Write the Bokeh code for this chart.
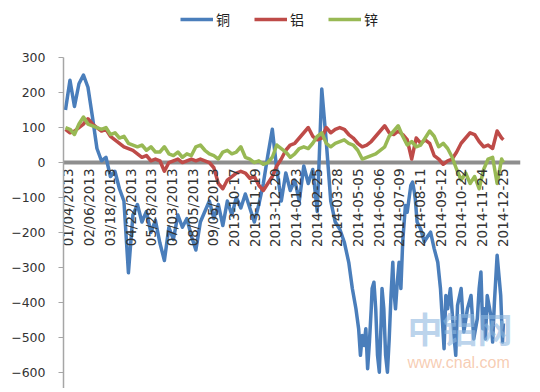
from math import pi
from bokeh.plotting import figure
from bokeh.models import (Range1d, FixedTicker, Span, Legend, LegendItem, Label,
                          ColumnDataSource)
from bokeh.core.properties import value
from bokeh.embed import file_html
from bokeh.resources import INLINE

# ---------------- data ----------------
# trading-day index of each sampled point (weekly samples) for 铝 and 锌
day_index = list(range(0, 486, 5)) + [487]

# 铜: weekly samples through Feb 2014, denser samples afterwards
copper_days = list(range(0, 291, 5)) + [
    295, 300, 305, 310, 315, 319, 323, 326, 328, 330, 332, 334, 336, 338, 340,
    341, 343, 345, 347, 349, 351, 352, 354, 356, 358, 360, 362, 364, 365, 367,
    369, 371, 373, 375, 378, 380, 384, 386, 388, 389, 391, 395, 399, 403, 406,
    410, 414, 417, 421, 423, 425, 428, 432, 434, 436, 440, 443, 447, 451, 454,
    458, 460, 462, 464, 466, 467, 469, 473, 475, 477, 480, 484, 486, 487]

copper = [150, 235, 160, 225, 250, 215, 130, 40, 5, 15,
          -40, -25, -75, -110, -315, -150, -120, -170, -140, -200,
          -165, -230, -280, -185, -220, -150, -185, -160, -210, -250,
          -170, -140, -110, -160, -120, -180, -110, -150, -100, -130,
          -90, -130, -170, -120, -60, 20, 95, -20, -110, -30,
          -80, -50, -110, -10, -60, -20, -140, 210, 60,
          -110, -170, -190, -227, -285, -360, -418, -475, -551, -494,
          -523, -475, -589, -513, -418, -360, -342, -418, -551, -599,
          -456, -360, -418, -551, -599, -504, -380, -285, -360, -418,
          -342, -285, -360, -227, -123, -142, -66, -56, -85, -104,
          -170, -190, -227, -210, -199, -246, -285, -360, -532, -380,
          -418, -360, -494, -551, -408, -360, -484, -418, -380, -504,
          -446, -360, -313, -475, -418, -504, -380, -437, -513, -399,
          -265, -380, -513, -460]

aluminium = [95, 85, 90, 100, 110, 125, 110, 100, 90, 95,
             75, 65, 55, 45, 40, 35, 25, 15, 20, 5,
             10, 5, -25, 0, 5, 10, 0, 5, 10, 5,
             10, 5, 0, -15, -60, -75, -50, -40, -30, -25,
             -30, -45, -40, -65, -80, -60, -40, -10, 10, 35,
             50, 55, 70, 85, 100, 75, 65, 70, 100, 85,
             95, 100, 95, 80, 70, 55, 45, 50, 60, 75,
             90, 105, 85, 80, 90, 80, 65, 10, 70, 55,
             65, 55, 20, 10, -5, 5, 10, 30, 55, 70,
             85, 80, 60, 45, 50, 40, 90, 70, 65]

zinc = [100, 95, 80, 110, 130, 110, 105, 100, 95, 100,
        80, 85, 70, 75, 55, 50, 45, 50, 35, 45,
        30, 30, 45, 25, 20, 30, 15, 25, 20, 45,
        50, 35, 25, 20, 10, 30, 35, 25, 30, 45,
        15, 10, 0, 5, -5, 0, 15, 50, 40, 30,
        15, 25, 40, 45, 40, 55, 75, 85, 55, 45,
        55, 60, 65, 55, 50, 35, 10, 15, 20, 25,
        35, 45, 75, 90, 105, 75, 50, 60, 45, 50,
        70, 90, 75, 45, 55, 40, 15, -20, -50, -30,
        -60, -40, -75, -20, 10, 15, -60, 10, 0]

series_names = ["铜", "铝", "锌"]
series_colors = ["#4a7ebb", "#be4b48", "#98b954"]

date_labels = ["01/04/2013", "02/06/2013", "03/18/2013", "04/22/2013",
               "05/28/2013", "07/03/2013", "08/05/2013", "09/05/2013",
               "2013-10-17", "2013-11-19", "2013-12-20", "2014-01-23",
               "2014-02-25", "2014-03-28", "2014-05-05", "2014-06-06",
               "2014-07-09", "2014-08-11", "2014-09-12", "2014-10-22",
               "2014-11-24", "2014-12-25"]
label_days = [23 * i for i in range(len(date_labels))]

y_ticks = [300, 200, 100, 0, -100, -200, -300, -400, -500, -600]

# ---------------- figure ----------------
p = figure(width=536, height=388, output_backend="svg", toolbar_location=None,
           x_range=Range1d(-2.2, 506), y_range=Range1d(-645.7, 462.9),
           min_border_left=63, min_border_right=16, min_border_top=0,
           min_border_bottom=0)
p.outline_line_color = None
p.xgrid.visible = False
p.ygrid.visible = False
p.xaxis.visible = False
p.background_fill_color = "white"
p.border_fill_color = "white"

yax = p.yaxis[0]
yax.ticker = FixedTicker(ticks=y_ticks)
yax.bounds = (-645.7, 300)
yax.axis_line_color = "#a6a6a6"
yax.axis_line_width = 1.5
yax.major_tick_line_color = "#a6a6a6"
yax.major_tick_out = 5
yax.major_tick_in = 0
yax.minor_tick_out = 0
yax.minor_tick_in = 0
yax.major_label_standoff = 13
yax.major_label_text_font = "DejaVu Sans"
yax.major_label_text_font_size = "12.5px"
yax.major_label_text_color = "#333333"

zero = Span(location=0, dimension="width", line_color="#8e8e8e", line_width=4,
            level="underlay")
p.add_layout(zero)

renderers = []
for xs, vals, col in zip([copper_days, day_index, day_index],
                         [copper, aluminium, zinc], series_colors):
    r = p.line(xs, vals, line_color=col, line_width=3.5, line_join="round")
    renderers.append(r)

# date labels sitting under the zero line
lab_src = ColumnDataSource(dict(x=label_days, y=[0] * len(label_days), t=date_labels))
p.text(x="x", y="y", text="t", source=lab_src, angle=pi / 2,
       text_align="right", text_baseline="middle", x_offset=3, y_offset=6,
       text_font=value("DejaVu Sans"), text_font_size="13.5px",
       text_color="#333333")

legend = Legend(items=[LegendItem(label=n, renderers=[r])
                       for n, r in zip(series_names, renderers)],
                orientation="horizontal", location=(117, 359),
                glyph_width=33, glyph_height=16, label_standoff=3, spacing=18,
                padding=0, margin=0, border_line_alpha=0,
                background_fill_alpha=0,
                label_text_font="Noto Sans CJK SC", label_text_font_size="14px",
                label_text_color="#222222", label_height=16)
p.add_layout(legend)

# watermark
p.add_layout(Label(x=344, y=36, x_units="screen", y_units="screen", text="中铝网",
                   text_font="Noto Sans CJK SC", text_font_size="35px",
                   text_color="#8fb8e0", text_alpha=0.6, text_font_style="bold"))
p.add_layout(Label(x=344, y=18, x_units="screen", y_units="screen",
                   text="www.cnal.com", text_font="Liberation Sans",
                   text_font_size="16px", text_color="#f3b793", text_alpha=0.7))

open("out.html", "w").write(file_html(p, INLINE))
